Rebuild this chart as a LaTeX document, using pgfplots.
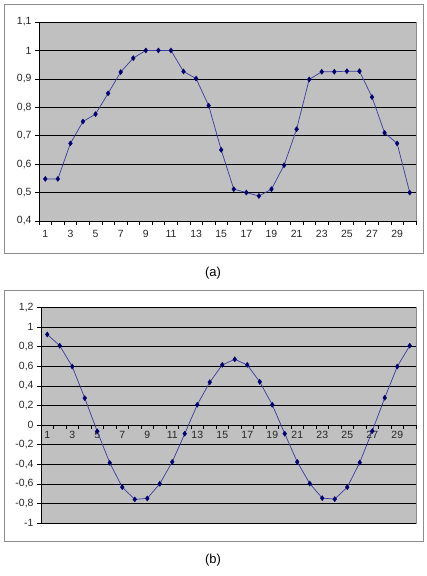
\documentclass[border=0pt]{standalone}
\usepackage{fontspec}
\setmainfont{Liberation Sans}
\usepackage{pgfplots}
\pgfplotsset{compat=1.18}

\definecolor{plotbg}{HTML}{C0C0C0}
\definecolor{framegray}{HTML}{8C8C8C}
\definecolor{serline}{HTML}{3A3AA0}
\definecolor{sermark}{HTML}{000070}

\pgfplotsset{
  excel/.style={
    scale only axis,
    xmin=0.5, xmax=30.5,
    xtick={1,3,...,29},
    minor xtick={0.5,1.5,...,30.5},
    major x tick style={draw=none},
    ymajorgrids,
    grid style={black, line width=0.6pt},
    tick align=outside,
    major tick length=4bp,
    minor tick length=4bp,
    tick style={black, line width=0.6pt},
    axis line style={-, black, line width=0.7pt},
    axis background/.style={fill=plotbg, draw=framegray, line width=0.8pt},
    ticklabel style={font=\fontsize{10.5}{12}\selectfont, text=black!85},
    /pgf/number format/assume math mode=true,
    /pgf/number format/use comma,
    hide obscured x ticks=false,
    hide obscured y ticks=false,
    clip=false,
  },
  series/.style={color=serline, line width=0.7pt, mark=diamond*, mark size=2.6bp,
    mark options={draw=sermark, fill=sermark, line width=0.3pt}},
}

\begin{document}
\begin{tikzpicture}
\useasboundingbox (0,0) rectangle (427bp,576bp);

% chart frames
\draw[framegray, line width=0.8pt] (4.5bp,323bp) rectangle (423bp,571.5bp);
\draw[framegray, line width=0.8pt] (4.5bp,35bp) rectangle (423bp,286bp);

% (a)
\begin{axis}[excel,
  at={(39bp,355bp)}, anchor=south west,
  width=377bp, height=199bp,
  axis x line*=bottom, axis y line*=left,
  ymin=0.4, ymax=1.1,
  ytick={0.4,0.5,...,1.1},
  xticklabel style={yshift=-2bp},
]
\addplot[series] coordinates {
 (1,0.548) (2,0.548) (3,0.673) (4,0.750) (5,0.776) (6,0.849) (7,0.924)
 (8,0.973) (9,1.0) (10,1.0) (11,1.0) (12,0.926) (13,0.901) (14,0.806)
 (15,0.650) (16,0.512) (17,0.500) (18,0.488) (19,0.512) (20,0.596)
 (21,0.723) (22,0.898) (23,0.925) (24,0.925) (25,0.927) (26,0.927)
 (27,0.836) (28,0.710) (29,0.673) (30,0.500)
};
\end{axis}

% (b)
\begin{axis}[excel,
  at={(41bp,53bp)}, anchor=south west,
  width=375bp, height=215.5bp,
  axis x line*=middle, axis y line*=left,
  ymin=-1, ymax=1.2,
  ytick={-1,-0.8,...,1.2},
  xticklabel style={anchor=north, yshift=1bp},
]
\addplot[series] coordinates {
 (1,0.925) (2,0.810) (3,0.597) (4,0.275) (5,-0.064) (6,-0.386) (7,-0.634)
 (8,-0.759) (9,-0.749) (10,-0.600) (11,-0.376) (12,-0.088) (13,0.207)
 (14,0.437) (15,0.614) (16,0.671) (17,0.614) (18,0.441) (19,0.207)
 (20,-0.088) (21,-0.376) (22,-0.597) (23,-0.746) (24,-0.756) (25,-0.634)
 (26,-0.383) (27,-0.061) (28,0.278) (29,0.597) (30,0.810)
};
\end{axis}

\node[font=\fontsize{13}{15}\selectfont] at (213bp,303bp) {(a)};
\node[font=\fontsize{13}{15}\selectfont] at (213bp,16bp) {(b)};
\end{tikzpicture}
\end{document}
